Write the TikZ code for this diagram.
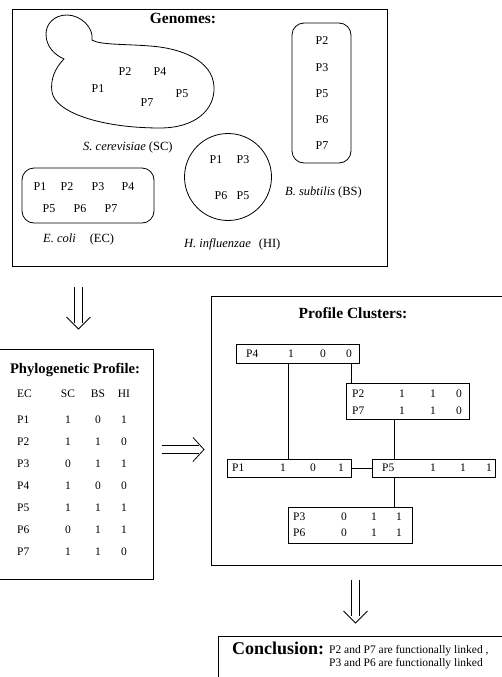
\documentclass[tikz,border=0pt]{standalone}
\usepackage{fontspec}
\setmainfont{Liberation Serif}
\usetikzlibrary{calc}
\begin{document}
\begin{tikzpicture}[x=1pt,y=-1pt,
  bigbox/.style={draw,line width=0.8pt,rectangle,inner sep=0pt,anchor=north west},
  ttl/.style={font=\fontsize{15.5}{18}\selectfont\bfseries,inner sep=0pt},
  gi/.style={font=\fontsize{12}{14}\selectfont,inner sep=0pt},
  ti/.style={font=\fontsize{11.5}{13}\selectfont,inner sep=0pt},
  spc/.style={font=\fontsize{12.5}{15}\selectfont,inner sep=0pt,anchor=west},
  cbox/.style={draw,line width=0.9pt,rectangle,inner sep=0pt,anchor=north west},
  gshape/.style={draw,line width=0.8pt},
  link/.style={line width=0.9pt},
  arr/.style={line width=0.8pt}]

\useasboundingbox (0,0) rectangle (501,677);

% ---------------- Genomes ----------------
\node[bigbox,minimum width=375pt,minimum height=257pt] (genomes) at (12,9) {};
\node[ttl] (gtitle) at (183,18) {Genomes:};

% S. cerevisiae (yeast shape)
\draw[gshape] (92,40)
  .. controls (94,28) and (81,15) .. (67,15)
  .. controls (54,15) and (46,24) .. (46,34)
  .. controls (46,47) and (55,55) .. (64,59)
  .. controls (55,68) and (50,80) .. (52,92)
  .. controls (55,112) and (100,128) .. (160,128)
  .. controls (195,128) and (215,110) .. (214,87)
  .. controls (213,60) and (180,48) .. (150,46)
  .. controls (125,44) and (100,45) .. (92,40) -- cycle;
\node[gi] (sc2) at (125,72) {P2};
\node[gi] (sc4) at (160,72) {P4};
\node[gi] (sc1) at (98,89) {P1};
\node[gi] (sc7) at (147,103) {P7};
\node[gi] (sc5) at (182,94) {P5};
\node[spc] (sclab) at (83,147) {\textit{S. cerevisiae}\hspace{3pt}(SC)};

% B. subtilis
\node[draw,line width=0.8pt,rectangle,rounded corners=12pt,minimum width=59pt,minimum height=140pt] (bs) at (321.5,93) {};
\node[gi] (bs2) at (322,41) {P2};
\node[gi] (bs3) at (322,68) {P3};
\node[gi] (bs5) at (322,94) {P5};
\node[gi] (bs6) at (322,120) {P6};
\node[gi] (bs7) at (322,146) {P7};
\node[spc] (bslab) at (285,192) {\textit{B. subtilis}\hspace{3pt}(BS)};

% H. influenzae
\node[draw,line width=0.8pt,circle,minimum size=87pt,inner sep=0pt] (hi) at (228,177) {};
\node[gi] (hi1) at (216,160) {P1};
\node[gi] (hi3) at (243,160) {P3};
\node[gi] (hi6) at (221,196) {P6};
\node[gi] (hi5) at (243,196) {P5};
\node[spc] (hilab) at (184,244) {\textit{H. influenzae}\hspace{8pt}(HI)};

% E. coli
\node[draw,line width=0.8pt,rectangle,rounded corners=12pt,minimum width=132pt,minimum height=55pt] (ec) at (88,195.5) {};
\node[gi] (ec1) at (40,187) {P1};
\node[gi] (ec2) at (67,187) {P2};
\node[gi] (ec3) at (98,187) {P3};
\node[gi] (ec4) at (128,187) {P4};
\node[gi] (ec5) at (49,209) {P5};
\node[gi] (ec6) at (80,209) {P6};
\node[gi] (ec7) at (111,209) {P7};
\node[spc] (eclab) at (43,239) {\textit{E. coli}\hspace{14pt}(EC)};

% ---------------- Arrow 1 (down) ----------------
\coordinate (a1) at (78.5,287);
\draw[arr] ($(a1)+(-3.8,0)$) -- ($(a1)+(-3.8,36)$);
\draw[arr] ($(a1)+(3.8,0)$) -- ($(a1)+(3.8,36)$);
\draw[arr] ($(a1)+(-12,30)$) -- ($(a1)+(0,42)$) -- ($(a1)+(12,30)$);

% ---------------- Phylogenetic profile ----------------
\node[bigbox,minimum width=160pt,minimum height=230pt] (phylo) at (-7,349) {};
\node[ttl,font=\fontsize{14.6}{17}\selectfont\bfseries,anchor=base] (ptitle) at (75,373) {Phylogenetic Profile:};
\node[ti,anchor=west] (hEC) at (17,394) {EC};
\node[ti] (hSC) at (68,394) {SC};
\node[ti] (hBS) at (98,394) {BS};
\node[ti] (hHI) at (124,394) {HI};
\foreach \n/\a/\b/\c [count=\i] in {P1/1/0/1,P2/1/1/0,P3/0/1/1,P4/1/0/0,P5/1/1/1,P6/0/1/1,P7/1/1/0}{
  \node[ti,anchor=west] (r\i) at (17,{420+(\i-1)*22}) {\n};
  \node[ti] (r\i a) at (68,{420+(\i-1)*22}) {\a};
  \node[ti] (r\i b) at (98,{420+(\i-1)*22}) {\b};
  \node[ti] (r\i c) at (124,{420+(\i-1)*22}) {\c};
}

% ---------------- Arrow 2 (right) ----------------
\coordinate (a2) at (162,449.5);
\draw[arr] ($(a2)+(0,-4)$) -- ($(a2)+(37,-4)$);
\draw[arr] ($(a2)+(0,4)$) -- ($(a2)+(37,4)$);
\draw[arr] ($(a2)+(31,-12)$) -- ($(a2)+(42,0)$) -- ($(a2)+(31,12)$);

% ---------------- Profile clusters ----------------
\node[bigbox,minimum width=300pt,minimum height=269pt] (clusters) at (211,296) {};
\node[ttl] (ctitle) at (353,313) {Profile Clusters:};

% P4 box
\node[cbox,minimum width=123pt,minimum height=19pt] (p4) at (236,344) {};
\node[ti,anchor=west] (p4n) at (246,353.5) {P4};
\node[ti] (p4a) at (291,353.5) {1};
\node[ti] (p4b) at (323,353.5) {0};
\node[ti] (p4c) at (349,353.5) {0};

% P2/P7 box
\node[cbox,minimum width=123pt,minimum height=36pt] (p27) at (346,383) {};
\node[ti,anchor=west] (p2n) at (352,394) {P2};
\node[ti] (p2a) at (402,394) {1};
\node[ti] (p2b) at (433,394) {1};
\node[ti] (p2c) at (459,394) {0};
\node[ti,anchor=west] (p7n) at (352,410.5) {P7};
\node[ti] (p7a) at (402,410.5) {1};
\node[ti] (p7b) at (433,410.5) {1};
\node[ti] (p7c) at (459,410.5) {0};

% P1 box
\node[cbox,minimum width=124pt,minimum height=18pt] (p1) at (227,459) {};
\node[ti,anchor=west] (p1n) at (232,468) {P1};
\node[ti] (p1a) at (283,468) {1};
\node[ti] (p1b) at (313,468) {0};
\node[ti] (p1c) at (341,468) {1};

% P5 box
\node[cbox,minimum width=123pt,minimum height=18pt] (p5) at (372,459) {};
\node[ti,anchor=west] (p5n) at (382,468) {P5};
\node[ti] (p5a) at (433,468) {1};
\node[ti] (p5b) at (463,468) {1};
\node[ti] (p5c) at (489,468) {1};

% P3/P6 box
\node[cbox,minimum width=124pt,minimum height=36pt] (p36) at (288,507) {};
\node[ti,anchor=west] (p3n) at (293,517) {P3};
\node[ti] (p3a) at (344,517) {0};
\node[ti] (p3b) at (374,517) {1};
\node[ti] (p3c) at (399,517) {1};
\node[ti,anchor=west] (p6n) at (293,533) {P6};
\node[ti] (p6a) at (344,533) {0};
\node[ti] (p6b) at (374,533) {1};
\node[ti] (p6c) at (399,533) {1};

% links
\coordinate (xa) at (288,0);
\coordinate (xb) at (351,0);
\coordinate (xc) at (394,0);
\draw[link] (p4.south -| xa) -- (p1.north -| xa);
\draw[link] (p4.south -| xb) -- (p27.north -| xb);
\draw[link] (p27.south -| xc) -- (p5.north -| xc);
\draw[link] (p1.east) -- (p5.west);
\draw[link] (p5.south -| xc) -- (p36.north -| xc);

% ---------------- Arrow 3 (down) ----------------
\coordinate (a3) at (355.5,580);
\draw[arr] ($(a3)+(-3.8,0)$) -- ($(a3)+(-3.8,36)$);
\draw[arr] ($(a3)+(3.8,0)$) -- ($(a3)+(3.8,36)$);
\draw[arr] ($(a3)+(-12,31)$) -- ($(a3)+(0,43)$) -- ($(a3)+(12,31)$);

% ---------------- Conclusion ----------------
\node[bigbox,minimum width=300pt,minimum height=60pt] (concl) at (218,636) {};
\node[font=\fontsize{18}{20}\selectfont\bfseries,inner sep=0pt,anchor=base west] (clab) at (232,654) {Conclusion:};
\node[ti,anchor=base west] (cl1) at (329,653) {P2 and P7 are functionally linked ,};
\node[ti,anchor=base west] (cl2) at (329,666) {P3 and P6 are functionally linked};

\end{tikzpicture}
\end{document}
